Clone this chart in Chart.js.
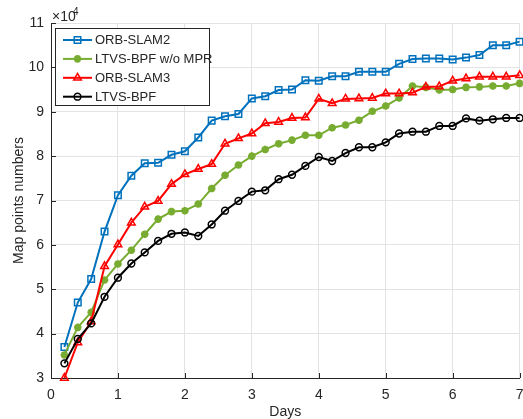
<!DOCTYPE html>
<html>
<head>
<meta charset="utf-8">
<script src="https://cdn.jsdelivr.net/npm/chart.js@4"></script>
<style>
  html, body { margin: 0; padding: 0; background: #fff; overflow: hidden; }
  #wrap { width: 523px; height: 419px; overflow: hidden; }
</style>
</head>
<body>
<div id="wrap"><canvas id="c" width="526" height="419"></canvas></div>
<script>
const days = [0.2, 0.4, 0.6, 0.8, 1.0, 1.2, 1.4, 1.6, 1.8, 2.0, 2.2, 2.4, 2.6, 2.8, 3.0, 3.2, 3.4, 3.6,
    3.8, 4.0, 4.2, 4.4, 4.6, 4.8, 5.0, 5.2, 5.4, 5.6, 5.8, 6.0, 6.2, 6.4, 6.6, 6.8, 7.0];

const orbSlam2 = [37000, 47000, 52300, 63000, 71200, 75600, 78400, 78500, 80300, 81100, 84200, 88000,
    89000, 89500, 93000, 93500, 94900, 95000, 97100, 97000, 98000, 98000, 99000, 99000, 99000,
    100800, 101900, 102000, 102000, 101800, 102200, 102800, 105000, 105000, 105800];
const ltvsNoMpr = [35200, 41400, 44800, 52100, 55700, 58800, 62400, 65800, 67500, 67700, 69200, 72700,
    75700, 78000, 80000, 81500, 82800, 83600, 84700, 84700, 86400, 87000, 88100, 90100, 91300,
    93100, 95800, 95500, 94900, 95000, 95500, 95600, 95800, 95800, 96400];
const orbSlam3 = [30000, 38000, 42700, 55200, 60100, 65000, 68600, 69900, 73700, 75900, 77100, 78200,
    82800, 84000, 85100, 87400, 87700, 88600, 88700, 92900, 91900, 92900, 93000, 93100, 94100,
    94100, 94300, 95600, 95700, 97000, 97500, 97900, 97900, 97900, 98200];
const ltvsBpf = [33300, 38800, 42300, 48300, 52600, 55800, 58300, 60900, 62500, 62800, 62000, 64600,
    67700, 69900, 72000, 72300, 74800, 75800, 77800, 79800, 78900, 80700, 82000, 82000, 83100,
    85100, 85500, 85500, 86800, 86800, 88500, 88000, 88300, 88600, 88600];

const xTicks = [0, 1, 2, 3, 4, 5, 6, 7];
const yTicks = [3, 4, 5, 6, 7, 8, 9, 10, 11];
const yScaleFactor = 10000;

const FONT = "'Liberation Sans', Arial, Helvetica, sans-serif";
const TXT = "#262626";

function pts(values) {
    return values.map((v, i) => ({ x: days[i], y: v / yScaleFactor }));
}

const series = [
    { label: "ORB-SLAM2", data: orbSlam2, color: "#0072BD", style: "rect", radius: 4.6, bw: 1.5 },
    { label: "LTVS-BPF w/o MPR", data: ltvsNoMpr, color: "#77AC30", style: "star", radius: 3.8, bw: 2.4 },
    { label: "ORB-SLAM3", data: orbSlam3, color: "#FF0000", style: "triangle", radius: 4.4, bw: 1.5 },
    { label: "LTVS-BPF", data: ltvsBpf, color: "#000000", style: "circle", radius: 3.4, bw: 1.5 }
];

// inward tick marks, axis titles, x10^4 label and the boxed legend
const decor = {
    id: "decor",
    afterDraw(chart) {
        const ctx = chart.ctx;
        const a = chart.chartArea;
        const xs = chart.scales.x, ys = chart.scales.y;
        ctx.save();
        ctx.strokeStyle = TXT;
        ctx.lineWidth = 1;
        ctx.beginPath();
        xTicks.forEach(t => {
            const px = Math.round(xs.getPixelForValue(t)) + 0.5;
            ctx.moveTo(px, a.bottom);
            ctx.lineTo(px, a.bottom - 5);
        });
        yTicks.forEach(t => {
            const py = Math.round(ys.getPixelForValue(t)) + 0.5;
            ctx.moveTo(a.left, py);
            ctx.lineTo(a.left + 5, py);
        });
        ctx.stroke();

        ctx.fillStyle = TXT;
        ctx.font = "14px " + FONT;
        ctx.textAlign = "center";
        ctx.textBaseline = "middle";
        ctx.fillText("Days", (a.left + a.right) / 2, 412);
        ctx.save();
        ctx.translate(19, (a.top + a.bottom) / 2);
        ctx.rotate(-Math.PI / 2);
        ctx.fillText("Map points numbers", 0, 0);
        ctx.restore();

        ctx.textAlign = "left";
        ctx.textBaseline = "alphabetic";
        ctx.font = "14px " + FONT;
        ctx.fillText("\u00d710", 52, 21);
        ctx.font = "10px " + FONT;
        ctx.fillText("4", 73, 15);

        // legend
        const lx = 55.5, ly = 28.5, lw = 154, lh = 77;
        ctx.fillStyle = "#fff";
        ctx.fillRect(lx, ly, lw, lh);
        ctx.strokeStyle = "#262626";
        ctx.strokeRect(lx, ly, lw, lh);
        ctx.font = "13px " + FONT;
        ctx.textBaseline = "middle";
        series.forEach((s, i) => {
            const y = 40 + i * 18.9;
            ctx.strokeStyle = s.color;
            ctx.lineWidth = 2;
            ctx.beginPath();
            ctx.moveTo(63, y);
            ctx.lineTo(92, y);
            ctx.stroke();
            ctx.lineWidth = s.bw;
            ctx.fillStyle = "rgba(0,0,0,0)";
            Chart.helpers.drawPoint(ctx, { pointStyle: s.style, radius: s.radius, rotation: 0, borderWidth: s.bw }, 77.5, y);
            ctx.fillStyle = TXT;
            ctx.fillText(s.label, 95, y + 0.5);
        });
        ctx.restore();
    }
};

new Chart(document.getElementById("c"), {
    type: "line",
    data: {
        datasets: series.map((s, i) => ({
            label: s.label,
            data: pts(s.data),
            borderColor: s.color,
            backgroundColor: s.color,
            borderWidth: 2,
            pointStyle: s.style,
            pointRadius: s.radius,
            pointBorderWidth: s.bw,
            pointBackgroundColor: "rgba(0,0,0,0)",
            pointBorderColor: s.color,
            tension: 0,
            fill: false,
            clip: 6,
            order: 3 - i
        }))
    },
    options: {
        responsive: false,
        animation: false,
        devicePixelRatio: 1,
        layout: { padding: { left: 0, top: 23, right: 1, bottom: 0 } },
        plugins: { legend: { display: false }, tooltip: { enabled: false } },
        scales: {
            x: {
                type: "linear",
                min: 0, max: 7,
                afterFit(scale) { scale.height = 41; scale.paddingLeft = 0; scale.paddingRight = 0; },
                afterBuildTicks(scale) { scale.ticks = xTicks.map(v => ({ value: v })); },
                grid: { color: "#e3e3e3", drawTicks: false },
                border: { color: TXT, width: 1 },
                ticks: { color: TXT, font: { family: FONT, size: 14 }, padding: 9, maxRotation: 0 }
            },
            y: {
                min: 3, max: 11,
                afterFit(scale) { scale.width = 51; scale.paddingTop = 0; scale.paddingBottom = 0; },
                afterBuildTicks(scale) { scale.ticks = yTicks.map(v => ({ value: v })); },
                grid: { color: "#e3e3e3", drawTicks: false },
                border: { color: TXT, width: 1 },
                ticks: { color: TXT, font: { family: FONT, size: 14 }, padding: 7 }
            }
        }
    },
    plugins: [decor]
});
</script>
</body>
</html>
